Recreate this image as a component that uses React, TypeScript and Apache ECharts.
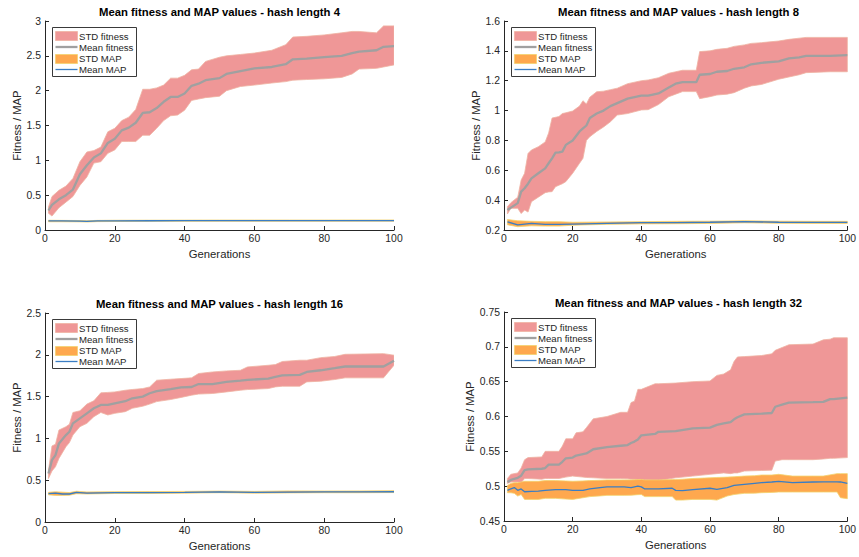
import React, { useEffect, useRef } from "react";
import * as echarts from "echarts";

// ---------- Data ----------
const TITLES = [
  "Mean fitness and MAP values - hash length 4",
  "Mean fitness and MAP values - hash length 8",
  "Mean fitness and MAP values - hash length 16",
  "Mean fitness and MAP values - hash length 32",
];
const LEGEND_NAMES = ["STD fitness", "Mean fitness", "STD MAP", "Mean MAP"];
const X_NAME = "Generations";
const Y_NAME = "Fitness / MAP";

// Panel 1: hash length 4
const GEN_1 = [1, 2, 4, 6, 8, 10, 12, 14, 16, 18, 20, 22, 24, 26, 28, 30, 32, 34, 36, 38, 40, 42, 44, 46, 50, 52, 56, 60, 65, 69, 71, 75, 80, 85, 88, 90, 95, 97, 100];
const MEAN_FIT_1 = [0.28, 0.36, 0.44, 0.5, 0.58, 0.8, 0.93, 1.04, 1.1, 1.25, 1.31, 1.43, 1.47, 1.54, 1.68, 1.69, 1.75, 1.84, 1.91, 1.91, 1.96, 2.07, 2.1, 2.15, 2.18, 2.24, 2.28, 2.32, 2.34, 2.38, 2.45, 2.46, 2.48, 2.5, 2.54, 2.56, 2.58, 2.63, 2.64];
const UP_FIT_1 = [0.33, 0.48, 0.57, 0.63, 0.74, 0.98, 1.12, 1.14, 1.19, 1.41, 1.46, 1.57, 1.62, 1.73, 2.02, 2.02, 2.04, 2.08, 2.18, 2.18, 2.22, 2.3, 2.31, 2.42, 2.48, 2.5, 2.52, 2.54, 2.58, 2.66, 2.77, 2.78, 2.8, 2.83, 2.85, 2.85, 2.83, 2.93, 2.93];
const LO_FIT_1 = [0.24, 0.2, 0.32, 0.4, 0.48, 0.64, 0.76, 0.96, 0.98, 1.1, 1.15, 1.27, 1.27, 1.27, 1.36, 1.36, 1.46, 1.57, 1.64, 1.65, 1.72, 1.86, 1.88, 1.9, 1.92, 2.0, 2.06, 2.08, 2.11, 2.13, 2.15, 2.16, 2.17, 2.19, 2.24, 2.31, 2.32, 2.34, 2.37];
const GEN_MAP_1 = [1, 5, 10, 12, 15, 20, 30, 40, 50, 60, 70, 80, 90, 100];
const MEAN_MAP_1 = [0.13, 0.13, 0.128, 0.124, 0.13, 0.132, 0.133, 0.134, 0.135, 0.135, 0.135, 0.135, 0.136, 0.136];
const UP_MAP_1 = [0.14, 0.138, 0.136, 0.133, 0.138, 0.14, 0.141, 0.142, 0.143, 0.143, 0.143, 0.143, 0.144, 0.144];
const LO_MAP_1 = [0.118, 0.118, 0.117, 0.114, 0.12, 0.122, 0.124, 0.125, 0.126, 0.126, 0.126, 0.126, 0.127, 0.127];

// Panel 2: hash length 8
const GEN_2 = [1, 2, 4, 5, 6, 7, 8, 10, 12, 13, 14, 15, 16, 17, 18, 20, 22, 23, 24, 25, 27, 29, 31, 33, 36, 40, 42, 45, 48, 50, 52, 56, 57, 60, 62, 65, 67, 70, 72, 75, 80, 83, 86, 88, 95, 100];
const MEAN_FIT_2 = [0.334, 0.35, 0.38, 0.457, 0.48, 0.51, 0.546, 0.58, 0.613, 0.647, 0.68, 0.718, 0.72, 0.725, 0.77, 0.8, 0.86, 0.88, 0.9, 0.95, 0.98, 1.0, 1.03, 1.05, 1.08, 1.1, 1.1, 1.115, 1.155, 1.18, 1.19, 1.19, 1.24, 1.245, 1.26, 1.265, 1.28, 1.29, 1.31, 1.32, 1.33, 1.35, 1.357, 1.367, 1.367, 1.372];
const UP_FIT_2 = [0.356, 0.383, 0.42, 0.535, 0.58, 0.713, 0.736, 0.758, 0.79, 0.85, 0.95, 0.955, 0.96, 0.98, 0.985, 0.997, 1.03, 1.066, 1.044, 1.09, 1.126, 1.13, 1.14, 1.15, 1.18, 1.2, 1.205, 1.22, 1.25, 1.26, 1.27, 1.27, 1.395, 1.4, 1.41, 1.417, 1.43, 1.44, 1.45, 1.455, 1.466, 1.477, 1.485, 1.49, 1.49, 1.49];
const LO_FIT_2 = [0.307, 0.345, 0.345, 0.31, 0.334, 0.32, 0.39, 0.42, 0.45, 0.455, 0.457, 0.49, 0.5, 0.51, 0.524, 0.58, 0.647, 0.68, 0.8, 0.825, 0.86, 0.89, 0.925, 0.97, 0.98, 1.004, 1.006, 1.04, 1.093, 1.11, 1.127, 1.127, 1.08, 1.093, 1.104, 1.11, 1.12, 1.15, 1.165, 1.175, 1.21, 1.225, 1.24, 1.254, 1.26, 1.26];
const GEN_MAP_2 = [1, 4, 8, 12, 16, 20, 30, 40, 50, 60, 70, 80, 90, 100];
const MEAN_MAP_2 = [0.255, 0.235, 0.245, 0.238, 0.238, 0.24, 0.245, 0.249, 0.25, 0.252, 0.256, 0.252, 0.251, 0.251];
const UP_MAP_2 = [0.27, 0.262, 0.258, 0.256, 0.256, 0.252, 0.254, 0.256, 0.258, 0.259, 0.262, 0.259, 0.258, 0.258];
const LO_MAP_2 = [0.235, 0.222, 0.228, 0.226, 0.226, 0.232, 0.238, 0.241, 0.242, 0.244, 0.248, 0.245, 0.244, 0.244];

// Panel 3: hash length 16
const GEN_3 = [1, 2, 3, 4, 6, 7, 8, 10, 12, 14, 16, 18, 20, 23, 25, 28, 30, 32, 36, 39, 42, 44, 48, 52, 56, 58, 64, 66, 68, 73, 75, 79, 83, 86, 97, 100];
const MEAN_FIT_3 = [0.58, 0.74, 0.8, 0.94, 1.04, 1.08, 1.18, 1.24, 1.3, 1.36, 1.4, 1.4, 1.42, 1.445, 1.48, 1.5, 1.54, 1.565, 1.59, 1.61, 1.615, 1.65, 1.65, 1.675, 1.69, 1.7, 1.715, 1.735, 1.755, 1.76, 1.795, 1.815, 1.84, 1.86, 1.86, 1.93];
const UP_FIT_3 = [0.62, 0.91, 0.93, 1.1, 1.14, 1.17, 1.31, 1.33, 1.41, 1.45, 1.545, 1.55, 1.556, 1.576, 1.585, 1.596, 1.616, 1.696, 1.708, 1.716, 1.724, 1.776, 1.795, 1.807, 1.815, 1.855, 1.875, 1.883, 1.92, 1.935, 1.935, 1.966, 1.98, 2.006, 2.014, 1.995];
const LO_FIT_3 = [0.52, 0.61, 0.66, 0.76, 0.9, 0.95, 1.04, 1.14, 1.18, 1.26, 1.31, 1.28, 1.3, 1.32, 1.36, 1.385, 1.41, 1.44, 1.465, 1.49, 1.517, 1.53, 1.537, 1.556, 1.576, 1.584, 1.596, 1.616, 1.624, 1.624, 1.676, 1.684, 1.704, 1.724, 1.724, 1.875];
const GEN_MAP_3 = [1, 3, 5, 7, 9, 12, 20, 30, 40, 50, 60, 70, 80, 90, 100];
const MEAN_MAP_3 = [0.34, 0.345, 0.335, 0.335, 0.355, 0.345, 0.352, 0.352, 0.355, 0.36, 0.355, 0.358, 0.36, 0.36, 0.362];
const UP_MAP_3 = [0.355, 0.362, 0.357, 0.352, 0.368, 0.36, 0.363, 0.364, 0.366, 0.37, 0.366, 0.372, 0.371, 0.372, 0.375];
const LO_MAP_3 = [0.325, 0.318, 0.318, 0.32, 0.338, 0.335, 0.341, 0.341, 0.345, 0.35, 0.345, 0.348, 0.35, 0.35, 0.352];

// Panel 4: hash length 32
const GEN_4 = [1, 2, 4, 5, 6, 7, 11, 12, 13, 16, 17, 18, 20, 21, 23, 24, 26, 30, 34, 36, 37, 38, 39, 40, 44, 45, 50, 55, 60, 62, 64, 66, 67, 68, 70, 75, 78, 79, 81, 83, 90, 93, 95, 96, 100];
const MEAN_FIT_4 = [0.506, 0.509, 0.512, 0.515, 0.523, 0.524, 0.525, 0.526, 0.531, 0.531, 0.535, 0.54, 0.541, 0.544, 0.546, 0.547, 0.553, 0.556, 0.558, 0.559, 0.562, 0.564, 0.567, 0.573, 0.575, 0.578, 0.579, 0.583, 0.584, 0.588, 0.59, 0.592, 0.596, 0.599, 0.603, 0.604, 0.605, 0.614, 0.617, 0.62, 0.6206, 0.621, 0.625, 0.625, 0.627];
const UP_FIT_4 = [0.511, 0.517, 0.519, 0.526, 0.538, 0.541, 0.542, 0.55, 0.55, 0.55, 0.5575, 0.568, 0.568, 0.5766, 0.578, 0.584, 0.5967, 0.6, 0.606, 0.606, 0.62, 0.622, 0.639, 0.639, 0.647, 0.647, 0.648, 0.65, 0.651, 0.659, 0.661, 0.667, 0.679, 0.6855, 0.686, 0.6875, 0.69, 0.695, 0.699, 0.703, 0.704, 0.71, 0.711, 0.713, 0.713];
const LO_FIT_4 = [0.504, 0.506, 0.506, 0.505, 0.511, 0.511, 0.51, 0.511, 0.511, 0.511, 0.512, 0.513, 0.5145, 0.514, 0.513, 0.5125, 0.512, 0.511, 0.511, 0.5105, 0.51, 0.51, 0.5095, 0.509, 0.508, 0.508, 0.512, 0.5145, 0.517, 0.518, 0.519, 0.518, 0.519, 0.519, 0.5217, 0.5225, 0.523, 0.536, 0.538, 0.538, 0.538, 0.539, 0.54, 0.54, 0.541];
const GEN_MAP_4 = [1, 2, 3, 4, 5, 6, 8, 10, 12, 15, 18, 20, 23, 25, 28, 30, 35, 37, 39, 40, 41, 45, 49, 50, 52, 55, 60, 62, 65, 67, 70, 73, 75, 78, 80, 84, 90, 93, 97, 98, 100];
const MEAN_MAP_4 = [0.494, 0.496, 0.498, 0.494, 0.496, 0.492, 0.4925, 0.493, 0.494, 0.495, 0.495, 0.494, 0.494, 0.496, 0.498, 0.499, 0.499, 0.498, 0.5, 0.499, 0.496, 0.496, 0.497, 0.494, 0.4935, 0.495, 0.497, 0.4955, 0.498, 0.501, 0.5025, 0.504, 0.505, 0.506, 0.507, 0.505, 0.506, 0.5063, 0.5063, 0.506, 0.504];
const UP_MAP_4 = [0.501, 0.504, 0.505, 0.505, 0.506, 0.507, 0.507, 0.507, 0.508, 0.508, 0.5075, 0.507, 0.5075, 0.508, 0.5085, 0.509, 0.509, 0.509, 0.5095, 0.5097, 0.509, 0.509, 0.5095, 0.5097, 0.51, 0.511, 0.512, 0.5125, 0.513, 0.5135, 0.5145, 0.515, 0.516, 0.516, 0.517, 0.5145, 0.5145, 0.5145, 0.518, 0.518, 0.518];
const LO_MAP_4 = [0.4906, 0.4905, 0.4897, 0.4858, 0.488, 0.481, 0.481, 0.481, 0.4825, 0.4825, 0.4815, 0.481, 0.4834, 0.485, 0.486, 0.4868, 0.4868, 0.487, 0.4878, 0.488, 0.485, 0.485, 0.485, 0.48, 0.48, 0.481, 0.481, 0.48, 0.4858, 0.488, 0.4897, 0.49, 0.4906, 0.491, 0.4916, 0.4916, 0.4916, 0.4916, 0.4916, 0.4834, 0.482];

// Axis ranges
const X_MIN = 0, X_MAX = 100, X_INTERVAL = 20;
const Y_RANGES = [
  { min: 0, max: 3, interval: 0.5 },
  { min: 0.2, max: 1.6, interval: 0.2 },
  { min: 0, max: 2.5, interval: 0.5 },
  { min: 0.45, max: 0.75, interval: 0.05 },
];

// ---------- Styling ----------
const FONT = "'Liberation Sans', Arial, Helvetica, sans-serif";
const TXT = "#262626";
const PINK = "#ef9797";
const PINK_EDGE = "#efb2a2";
const GRAY = "#a0a0a0";
const ORANGE = "#fea84e";
const ORANGE_EDGE = "#f3d36e";
const BLUE = "#3a7dc4";

const PANELS = [
  { x: GEN_1, mean: MEAN_FIT_1, up: UP_FIT_1, lo: LO_FIT_1, xm: GEN_MAP_1, meanM: MEAN_MAP_1, upM: UP_MAP_1, loM: LO_MAP_1 },
  { x: GEN_2, mean: MEAN_FIT_2, up: UP_FIT_2, lo: LO_FIT_2, xm: GEN_MAP_2, meanM: MEAN_MAP_2, upM: UP_MAP_2, loM: LO_MAP_2 },
  { x: GEN_3, mean: MEAN_FIT_3, up: UP_FIT_3, lo: LO_FIT_3, xm: GEN_MAP_3, meanM: MEAN_MAP_3, upM: UP_MAP_3, loM: LO_MAP_3 },
  { x: GEN_4, mean: MEAN_FIT_4, up: UP_FIT_4, lo: LO_FIT_4, xm: GEN_MAP_4, meanM: MEAN_MAP_4, upM: UP_MAP_4, loM: LO_MAP_4 },
];

// layout
const GRIDS = [
  { left: 45, top: 21, width: 349, height: 209, yNameGap: 21 },
  { left: 504, top: 21, width: 349, height: 209, yNameGap: 21 },
  { left: 45, top: 313, width: 349, height: 209, yNameGap: 21 },
  { left: 504, top: 312, width: 349, height: 209, yNameGap: 28 },
];

const pairs = (xs: number[], ys: number[]) => xs.map((x, i) => [x, ys[i]]);

function bandSeries(i: number, name: string, xs: number[], lo: number[], up: number[], fill: string, stroke: string) {
  return {
    type: "custom",
    name,
    xAxisIndex: i,
    yAxisIndex: i,
    coordinateSystem: "cartesian2d",
    silent: true,
    clip: true,
    data: xs.map((x, k) => [x, lo[k], up[k]]),
    encode: { x: 0, y: [1, 2] },
    renderItem: (params: any, api: any) => {
      if (params.dataIndex !== 0) return null;
      const upper = xs.map((x, k) => api.coord([x, up[k]]));
      const lower = xs.map((x, k) => api.coord([x, lo[k]])).reverse();
      return {
        type: "polygon",
        shape: { points: upper.concat(lower) },
        style: { fill, stroke, lineWidth: 0.8 },
      };
    },
  };
}

function buildOption() {
  const series: any[] = [];
  PANELS.forEach((p, i) => {
    const line = { type: "line", xAxisIndex: i, yAxisIndex: i, symbol: "none", silent: true };
    series.push(bandSeries(i, LEGEND_NAMES[0], p.x, p.lo, p.up, PINK, PINK_EDGE));
    series.push({ ...line, name: LEGEND_NAMES[1], data: pairs(p.x, p.mean), lineStyle: { color: GRAY, width: 2.3 } });
    series.push(bandSeries(i, LEGEND_NAMES[2], p.xm, p.loM, p.upM, ORANGE, ORANGE_EDGE));
    series.push({ ...line, name: LEGEND_NAMES[3], data: pairs(p.xm, p.meanM), lineStyle: { color: BLUE, width: 1.3 } });
  });

  const grid = GRIDS.map((g) => ({ left: g.left, top: g.top, width: g.width, height: g.height, containLabel: false }));

  const xAxis = GRIDS.map((g, i) => ({
    type: "value", gridIndex: i, min: X_MIN, max: X_MAX, interval: X_INTERVAL,
    name: X_NAME, nameLocation: "middle", nameGap: 18,
    nameTextStyle: { color: TXT, fontSize: 11.3, fontFamily: FONT },
    axisLine: { show: true, onZero: false, lineStyle: { color: TXT, width: 1 } },
    axisTick: { show: true, inside: true, length: 4, lineStyle: { color: TXT } },
    axisLabel: { color: TXT, fontSize: 10.4, fontFamily: FONT, margin: 3 },
    splitLine: { show: false },
  }));

  const yAxis = GRIDS.map((g, i) => ({
    type: "value", gridIndex: i, min: Y_RANGES[i].min, max: Y_RANGES[i].max, interval: Y_RANGES[i].interval,
    name: Y_NAME, nameLocation: "middle", nameGap: g.yNameGap, nameRotate: 90,
    nameTextStyle: { color: TXT, fontSize: 11.3, fontFamily: FONT },
    axisLine: { show: true, onZero: false, lineStyle: { color: TXT, width: 1 } },
    axisTick: { show: true, inside: true, length: 4, lineStyle: { color: TXT } },
    axisLabel: { color: TXT, fontSize: 10.4, fontFamily: FONT, margin: 4 },
    splitLine: { show: false },
  }));

  const title = GRIDS.map((g, i) => ({
    text: TITLES[i],
    left: g.left + g.width / 2,
    top: g.top - 14.5,
    padding: 0,
    textAlign: "center",
    textStyle: { color: "#000", fontSize: 11.3, fontWeight: "bold", fontFamily: FONT },
  }));

  const LF = 9.6;
  const legendGroups = GRIDS.map((g) => ({
    type: "group",
    left: g.left + 7,
    top: g.top + 6,
    z: 100,
    children: [
      { type: "rect", z: 100, shape: { x: 0, y: 0, width: 84, height: 49 }, style: { fill: "#fff", stroke: "#3a3a3a", lineWidth: 1 } },
      { type: "rect", z: 101, shape: { x: 3, y: 4, width: 22, height: 9 }, style: { fill: PINK, stroke: PINK_EDGE, lineWidth: 0.8 } },
      { type: "text", z: 101, x: 26.5, y: 8.5, style: { text: LEGEND_NAMES[0], fill: TXT, fontSize: LF, fontFamily: FONT, verticalAlign: "middle" } },
      { type: "line", z: 101, shape: { x1: 3, y1: 19.5, x2: 25, y2: 19.5 }, style: { stroke: GRAY, lineWidth: 2.3 } },
      { type: "text", z: 101, x: 26.5, y: 19.5, style: { text: LEGEND_NAMES[1], fill: TXT, fontSize: LF, fontFamily: FONT, verticalAlign: "middle" } },
      { type: "rect", z: 101, shape: { x: 3, y: 27, width: 22, height: 9 }, style: { fill: ORANGE, stroke: ORANGE_EDGE, lineWidth: 0.8 } },
      { type: "text", z: 101, x: 26.5, y: 31, style: { text: LEGEND_NAMES[2], fill: TXT, fontSize: LF, fontFamily: FONT, verticalAlign: "middle" } },
      { type: "line", z: 101, shape: { x1: 3, y1: 42, x2: 25, y2: 42 }, style: { stroke: BLUE, lineWidth: 1.3 } },
      { type: "text", z: 101, x: 26.5, y: 42, style: { text: LEGEND_NAMES[3], fill: TXT, fontSize: LF, fontFamily: FONT, verticalAlign: "middle" } },
    ],
  }));

  return {
    animation: false,
    backgroundColor: "#fff",
    textStyle: { fontFamily: FONT },
    title,
    grid,
    xAxis,
    yAxis,
    series,
    graphic: legendGroups,
  };
}

export default function App() {
  const ref = useRef<HTMLDivElement>(null);
  useEffect(() => {
    if (!ref.current) return;
    const chart = echarts.init(ref.current, null, { renderer: "svg" });
    chart.setOption(buildOption() as any);
    return () => chart.dispose();
  }, []);
  return <div ref={ref} style={{ position: "fixed", left: 0, top: 0, width: 859, height: 557, background: "#fff" }} />;
}
